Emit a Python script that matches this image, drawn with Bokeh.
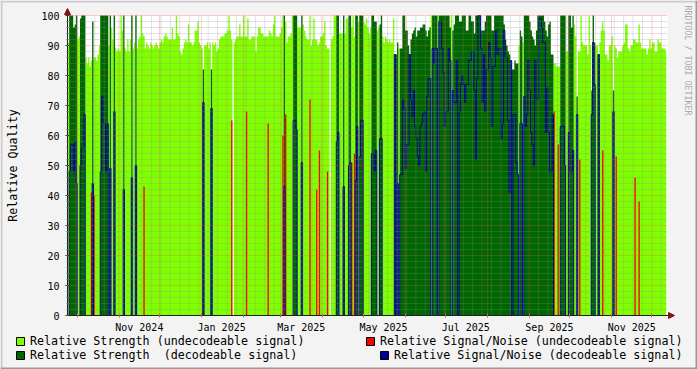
import numpy as np
import pandas as pd
from bokeh.plotting import figure
from bokeh.models import (ColumnDataSource, Range1d, FixedTicker, DatetimeTickFormatter,
                          DatetimeAxis, LinearAxis, Legend, LegendItem, Label,
                          BoxAnnotation, Arrow, NormalHead)
from bokeh.embed import file_html
from bokeh.resources import INLINE

nan = float("nan")

# ---------------- data (one value per day, starting at first_day) ----------------
first_day = "2024-09-23"

strength_undecodeable = [
    91, 91, 0, 0, 0, 0, 0, 0, 92, 93,
    0, 0, 0, 0, 86, 84, 86, 83, 85, 0,
    86, 86, 85, 87, 90, 0, 0, 0, 0, 0,
    0, 90, 0, 96, 92, 0, 89, 88, 89, 88,
    100, 95, 0, 89, 88, 92, 88, 92, 0, 89,
    91, 0, 89, 92, 93, 100, 94, 93, 89, 91,
    90, 89, 91, 90, 89, 90, 91, 90, 89, 91,
    92, 91, 93, 94, 93, 92, 92, 92, 96, 92,
    92, 100, 94, 93, 88, 87, 89, 91, 92, 91,
    97, 91, 91, 90, 91, 95, 95, 98, 91, 90,
    89, 0, 90, 90, 91, 89, 91, 0, 91, 90,
    91, 88, 89, 92, 93, 93, 93, 94, 94, 95,
    100, 95, 92, nan, 91, 92, 93, 93, 97, 93,
    93, 100, 93, 93, 99, 92, 92, 93, 93, 93,
    88, 93, 96, 96, 94, 94, 93, 93, 93, 93,
    95, 94, 93, 97, 100, 93, 93, 93, 94, 96,
    100, 0, 98, 91, 93, 93, 94, 100, 0, 0,
    0, 96, 96, 96, 0, 97, 95, 93, 92, 92,
    100, 90, 92, 99, 92, 92, 90, 91, 93, 93,
    94, 98, 90, 89, 89, nan, 92, 93, 100, 100,
    0, 0, 94, 94, 94, 0, 94, 99, 99, 0,
    0, 96, 100, 93, 0, 0, 98, 0, 0, 0,
    98, 97, 99, 96, 94, 96, 0, 0, 0, 0,
    95, 96, 0, 0, 93, 91, 93, 92, 91, 92,
    91, 91, 99, 0, 0, 0, 89, 0, 0, 0,
    0, 0, 0, 0, 0, 0, 0, 0, 0, 0,
    0, 0, 0, 0, 0, 0, 0, 0, 0, 0,
    100, 0, 0, 0, 0, 100, 0, 0, 0, 0,
    0, 0, 0, 0, 0, 100, 0, 0, 0, 0,
    0, 0, 0, 0, 0, 0, 0, 0, 0, 0,
    0, 0, 0, 0, 0, 0, 0, 0, 0, 0,
    0, 0, 0, 0, 0, 0, 0, 0, 0, 0,
    0, 0, 0, 0, 0, 0, 0, 0, 0, 0,
    0, 0, 0, 0, 0, 90, 0, 0, 91, 0,
    0, 0, 0, 0, 0, 0, 0, 0, 0, 0,
    0, 0, 0, 0, 0, 0, 0, 0, 0, 0,
    0, 84, 84, 83, 83, 83, 0, 0, 0, 0,
    88, 88, 0, 0, 0, 0, 97, 93, 0, 88,
    88, 100, 91, 90, 90, 90, 87, 100, 90, 0,
    0, 0, 90, 90, 0, 91, 95, 98, 95, 87,
    87, 85, 90, 90, 93, 0, 90, 89, 86, 88,
    88, 88, 90, 91, 97, 97, 89, 88, 90, 90,
    92, 92, 91, 91, 97, 91, 89, 89, 89, 89,
    87, 89, 92, 89, 91, 91, 88, 88, 92, 91,
    91, 89, 89, 89, 88,
]

strength_decodeable = [
    0, 0, 100, 100, 100, 96, 97, 100, 0, 0,
    99, 100, 100, 100, 0, 0, 0, 0, 0, 98,
    0, 0, 0, 0, 0, 100, 100, 100, 100, 100,
    100, 0, 100, 0, 0, 100, 0, 0, 0, 0,
    0, 0, 100, 0, 0, 0, 0, 0, 100, 0,
    0, 100, 0, 0, 0, 0, 0, 0, 0, 0,
    0, 0, 0, 0, 0, 0, 0, 0, 0, 0,
    0, 0, 0, 0, 0, 0, 0, 0, 0, 0,
    0, 0, 0, 0, 0, 0, 0, 0, 0, 0,
    0, 0, 0, 0, 0, 0, 0, 0, 0, 0,
    0, 82, 0, 0, 0, 0, 0, 82, 0, 0,
    0, 0, 0, 0, 0, 0, 0, 0, 0, 0,
    0, 0, 0, 0, 0, 0, 0, 0, 0, 0,
    0, 0, 0, 0, 0, 0, 0, 0, 0, 0,
    0, 0, 0, 0, 0, 0, 0, 0, 0, 0,
    0, 0, 0, 0, 0, 0, 0, 0, 0, 0,
    0, 100, 0, 0, 0, 0, 0, 0, 100, 100,
    100, 0, 0, 0, 100, 0, 0, 0, 0, 0,
    0, 0, 0, 0, 0, 0, 0, 0, 0, 0,
    0, 0, 0, 0, 0, 0, 0, 0, 0, 0,
    100, 100, 0, 0, 0, 100, 0, 0, 0, 100,
    100, 0, 0, 0, 100, 100, 0, 100, 100, 100,
    0, 0, 0, 0, 0, 0, 100, 100, 98, 98,
    0, 0, 97, 100, 0, 0, 0, 0, 0, 0,
    0, 0, 0, 87, 87, 91, 0, 89, 89, 100,
    100, 95, 95, 90, 87, 92, 94, 95, 96, 93,
    95, 95, 96, 96, 97, 97, 95, 93, 95, 96,
    0, 100, 100, 100, 100, 0, 100, 100, 100, 100,
    100, 100, 100, 100, 96, 0, 95, 97, 100, 100,
    100, 98, 98, 100, 100, 100, 95, 95, 100, 100,
    98, 98, 94, 100, 100, 100, 100, 95, 95, 95,
    98, 100, 100, 100, 100, 95, 95, 100, 100, 100,
    100, 100, 100, 100, 97, 92, 90, 88, 87, 85,
    82, 82, 85, 84, 84, 0, 95, 93, 0, 100,
    100, 100, 100, 98, 95, 93, 92, 90, 95, 100,
    100, 100, 100, 100, 98, 95, 93, 97, 98, 87,
    87, 0, 0, 0, 0, 0, 100, 100, 100, 100,
    0, 0, 100, 100, 96, 100, 0, 0, 73, 0,
    0, 0, 0, 0, 0, 0, 0, 0, 0, 75,
    100, 91, 0, 0, 87, 0, 0, 0, 0, 0,
    0, 0, 0, 0, 0, 75, 0, 0, 0, 0,
    0, 0, 0, 0, 0, 0, 0, 0, 0, 0,
    0, 0, 0, 0, 0, 0, 0, 0, 0, 0,
    0, 0, 0, 0, 0, 0, 0, 0, 0, 0,
    0, 0, 0, 0, 0,
]

snr_undecodeable = [
    0, 0, 0, 0, 0, 0, 0, 0, 0, 0,
    0, 0, 0, 0, 0, 0, 0, 0, 41, 0,
    40, 0, 0, 0, 0, 0, 0, 0, 0, 0,
    0, 0, 0, 0, 0, 0, 0, 0, 0, 0,
    0, 0, 0, 0, 0, 0, 0, 0, 0, 0,
    0, 0, 0, 0, 0, 0, 0, 43, 0, 0,
    0, 0, 0, 0, 0, 0, 0, 0, 0, 0,
    0, 0, 0, 0, 0, 0, 0, 0, 0, 0,
    0, 0, 0, 0, 0, 0, 0, 0, 0, 0,
    0, 0, 0, 0, 0, 0, 0, 0, 0, 0,
    0, 0, 0, 0, 0, 0, 0, 0, 0, 0,
    0, 0, 0, 0, 0, 0, 0, 0, 0, 0,
    0, 0, 65, 0, 0, 0, 0, 0, 0, 0,
    0, 0, 0, 68, 0, 0, 0, 0, 0, 0,
    0, 0, 0, 0, 0, 0, 0, 0, 0, 64,
    0, 0, 0, 0, 0, 0, 0, 0, 0, 0,
    60, 0, 67, 0, 0, 0, 0, 0, 0, 0,
    0, 0, 0, 0, 0, 0, 0, 0, 0, 0,
    72, 0, 0, 0, 0, 42, 0, 55, 0, 0,
    0, 0, 0, 48, 0, 0, 0, 0, 0, 0,
    0, 0, 0, 0, 0, 0, 0, 0, 0, 0,
    0, 51, 0, 54, 0, 0, 0, 0, 0, 0,
    0, 0, 0, 0, 0, 0, 0, 0, 0, 0,
    0, 0, 0, 0, 0, 0, 0, 0, 0, 0,
    0, 0, 0, 0, 0, 0, 0, 0, 0, 0,
    0, 0, 0, 0, 0, 0, 0, 0, 0, 0,
    0, 0, 0, 0, 0, 0, 0, 0, 0, 0,
    0, 0, 0, 0, 0, 0, 0, 0, 0, 0,
    0, 0, 0, 0, 0, 0, 0, 0, 0, 0,
    0, 0, 0, 0, 0, 0, 0, 0, 0, 0,
    0, 0, 0, 0, 0, 0, 0, 0, 0, 0,
    0, 0, 0, 0, 0, 0, 0, 0, 0, 0,
    0, 0, 0, 0, 0, 0, 0, 0, 0, 0,
    0, 0, 0, 0, 0, 0, 0, 0, 0, 0,
    0, 0, 0, 0, 0, 0, 0, 0, 0, 0,
    0, 0, 0, 0, 0, 0, 0, 0, 0, 0,
    0, 68, 0, 0, 57, 0, 0, 0, 0, 0,
    0, 0, 0, 0, 0, 0, 0, 0, 0, 0,
    52, 0, 0, 0, 0, 0, 0, 0, 0, 0,
    0, 0, 0, 0, 0, 0, 0, 55, 0, 0,
    0, 0, 0, 0, 0, 0, 0, 53, 0, 0,
    0, 0, 0, 0, 0, 0, 0, 0, 0, 0,
    0, 46, 0, 0, 38, 0, 0, 0, 0, 0,
    0, 0, 0, 0, 0, 0, 0, 0, 0, 0,
    0, 0, 0, 0, 0,
]

snr_decodeable = [
    0, 0, 48, 57, 57, 48, 58, 44, 0, 0,
    50, 56, 56, 67, 0, 0, 0, 0, 0, 44,
    0, 0, 0, 0, 0, 48, 73, 64, 64, 48,
    64, 0, 49, 0, 0, 68, 0, 0, 0, 0,
    0, 0, 42, 0, 0, 0, 0, 0, 46, 0,
    0, 50, 0, 0, 0, 0, 0, 0, 0, 0,
    0, 0, 0, 0, 0, 0, 0, 0, 0, 0,
    0, 0, 0, 0, 0, 0, 0, 0, 0, 0,
    0, 0, 0, 0, 0, 0, 0, 0, 0, 0,
    0, 0, 0, 0, 0, 0, 0, 0, 0, 0,
    0, 71, 0, 0, 0, 0, 0, 69, 0, 0,
    0, 0, 0, 0, 0, 0, 0, 0, 0, 0,
    0, 0, 0, 0, 0, 0, 0, 0, 0, 0,
    0, 0, 0, 0, 0, 0, 0, 0, 0, 0,
    0, 0, 0, 0, 0, 0, 0, 0, 0, 0,
    0, 0, 0, 0, 0, 0, 0, 0, 0, 0,
    0, 43, 0, 0, 0, 0, 0, 0, 65, 65,
    62, 0, 0, 0, 51, 0, 0, 0, 0, 0,
    0, 0, 0, 0, 0, 0, 0, 0, 0, 0,
    0, 0, 0, 0, 0, 0, 0, 0, 0, 0,
    58, 61, 0, 0, 0, 43, 0, 0, 0, 50,
    51, 0, 0, 0, 45, 63, 0, 53, 65, 65,
    0, 0, 0, 0, 0, 0, 54, 54, 48, 55,
    0, 0, 59, 59, 0, 0, 0, 0, 0, 0,
    0, 0, 0, 87, 0, 44, 0, 47, 47, 72,
    69, 49, 57, 57, 87, 72, 66, 75, 63, 59,
    53, 50, 63, 64, 67, 68, 48, 73, 79, 79,
    0, 89, 84, 89, 89, 0, 98, 98, 89, 81,
    63, 68, 68, 89, 85, 0, 75, 71, 71, 85,
    0, 68, 77, 80, 77, 71, 77, 77, 85, 85,
    88, 88, 75, 52, 79, 100, 100, 89, 71, 87,
    68, 82, 82, 91, 86, 63, 83, 83, 95, 87,
    89, 89, 59, 64, 95, 86, 86, 65, 41, 85,
    0, 67, 67, 51, 47, 0, 64, 64, 0, 73,
    63, 67, 85, 75, 61, 57, 50, 85, 72, 72,
    99, 99, 96, 91, 91, 61, 76, 61, 48, 48,
    67, 0, 0, 0, 0, 0, 63, 63, 63, 50,
    0, 0, 61, 48, 48, 55, 0, 0, 67, 0,
    0, 0, 0, 0, 0, 0, 0, 0, 0, 67,
    91, 77, 0, 0, 87, 0, 0, 0, 0, 0,
    0, 0, 0, 0, 0, 68, 0, 0, 0, 0,
    0, 0, 0, 0, 0, 0, 0, 0, 0, 0,
    0, 0, 0, 0, 0, 0, 0, 0, 0, 0,
    0, 0, 0, 0, 0, 0, 0, 0, 0, 0,
    0, 0, 0, 0, 0,
]

series_labels = [
    "Relative Strength (undecodeable signal)",
    "Relative Signal/Noise (undecodeable signal)",
    "Relative Strength  (decodeable signal)",
    "Relative Signal/Noise (decodeable signal)",
]
label_months = ["2024-11", "2025-01", "2025-03", "2025-05", "2025-07", "2025-09", "2025-11"]
y_ticks = [0, 10, 20, 30, 40, 50, 60, 70, 80, 90, 100]
y_minor = list(range(0, 101, 2))

# ---------------- style ----------------
C_LG, C_RED, C_DG, C_BLUE = "#80FF00", "#FF0000", "#006600", "#000099"
BG = "#F3F3F3"
FONT = "DejaVu Sans Mono"
MS_DAY = 86400000.0
W, H = 697, 369
FL, FT, FW, FH = 67, 15, 600, 300      # plot area in canvas pixels

n = len(strength_undecodeable)
assert all(len(a) == n for a in (strength_decodeable, snr_undecodeable, snr_decodeable)), \
    [len(a) for a in (strength_undecodeable, strength_decodeable, snr_undecodeable, snr_decodeable)]

t0 = pd.Timestamp(first_day).value / 1e6
x_start = t0 + 0.75 * MS_DAY
x_end = x_start + 444.77 * MS_DAY
mpp = (x_end - x_start) / FW          # ms per pixel
upp = 100.0 / FH                      # value units per pixel

x_lo = x_start - FL * mpp
x_hi = x_lo + W * mpp
y_hi = 100 + FT * upp
y_lo = y_hi - H * upp

day_ms = t0 + np.arange(n) * MS_DAY
x_edges = np.append(day_ms, day_ms[-1] + 0.6 * MS_DAY)
x_edges[0] = x_start


def stepped(v):
    v = np.nan_to_num(np.asarray(v, dtype=float), nan=0.0)
    return np.append(v, v[-1])


src = ColumnDataSource(dict(
    x=x_edges,
    su=stepped(strength_undecodeable),
    sd=stepped(strength_decodeable),
    nu=stepped(snr_undecodeable),
    nd=stepped(snr_decodeable),
))

p = figure(width=W, height=H, output_backend="svg", toolbar_location=None,
           x_axis_type="datetime", x_axis_location=None, y_axis_location=None,
           x_range=Range1d(x_lo, x_hi), y_range=Range1d(y_lo, y_hi),
           min_border_left=0, min_border_right=0, min_border_top=0, min_border_bottom=0,
           background_fill_color=BG, border_fill_color=BG, outline_line_color=None)
for g in p.grid:
    g.visible = False

# white canvas of the graph
p.add_layout(BoxAnnotation(left=x_start, right=x_end, bottom=0, top=100, fill_color="#FFFFFF",
                           fill_alpha=1.0, line_color=None, level="underlay"))

# data
p.varea_step(x="x", y1=0, y2="su", step_mode="after", source=src, fill_color=C_LG)
p.varea_step(x="x", y1=0, y2="nu", step_mode="after", source=src, fill_color=C_RED)
p.varea_step(x="x", y1=0, y2="sd", step_mode="after", source=src, fill_color=C_DG)
p.step(x="x", y="nd", mode="after", source=src, line_color=C_BLUE, line_width=1)

# grid (drawn over the data, limited to the graph area)
month_starts = [t.value / 1e6 for t in pd.date_range("2024-10-01", "2025-12-01", freq="MS")]
mondays = [t.value / 1e6 for t in pd.date_range(first_day, "2025-12-12", freq="7D")]
label_pos = [pd.Timestamp(m + "-01").value / 1e6 + 15 * MS_DAY for m in label_months]

v_major = [t for t in month_starts if x_start < t < x_end]
v_minor = [t for t in mondays if x_start < t < x_end and t not in month_starts]
h_major = [v for v in y_ticks if v > 0]
h_minor = [v for v in y_minor if v % 10 != 0]

MINOR = dict(line_color="#8C8C8C", line_alpha=0.5, line_dash="1 1", line_width=1)
MAJOR = dict(line_color="#FF5050", line_alpha=0.55, line_dash="1 1", line_width=1)
p.segment(x0=v_minor, y0=0, x1=v_minor, y1=100, **MINOR)
p.segment(x0=x_start, y0=h_minor, x1=x_end, y1=h_minor, **MINOR)
p.segment(x0=v_major, y0=0, x1=v_major, y1=100, **MAJOR)
p.segment(x0=x_start, y0=h_major, x1=x_end, y1=h_major, **MAJOR)

# axes at fixed positions
fmt = "%b %Y"
xa = DatetimeAxis(fixed_location=0, bounds=(x_start, x_end + 2 * mpp),
                  ticker=FixedTicker(ticks=label_pos, minor_ticks=v_major),
                  formatter=DatetimeTickFormatter(microseconds=fmt, milliseconds=fmt, seconds=fmt,
                                                  minsec=fmt, minutes=fmt, hourmin=fmt, hours=fmt,
                                                  days=fmt, months=fmt, years=fmt))
xa.major_tick_line_color = None
xa.major_tick_out = 0
xa.major_tick_in = 0
xa.minor_tick_line_color = "#D06060"
xa.minor_tick_out = 2
xa.minor_tick_in = 2
xa.major_label_standoff = 4
xa.axis_line_color = "#202020"
p.add_layout(xa, "below")

ya = LinearAxis(fixed_location=x_start, bounds=(0, 100 + 2 * upp),
                ticker=FixedTicker(ticks=y_ticks, minor_ticks=y_minor))
ya.major_tick_out = 2
ya.major_tick_in = 2
ya.minor_tick_out = 1
ya.minor_tick_in = 1
ya.major_tick_line_color = "#202020"
ya.minor_tick_line_color = "#606060"
ya.major_label_standoff = 6
ya.axis_line_color = "#202020"
p.add_layout(ya, "left")

for ax in (xa, ya):
    ax.major_label_text_font = FONT
    ax.major_label_text_font_size = "10px"
    ax.major_label_text_color = "#000000"

# axis arrows
arrow_col = "#8B1010"
p.add_layout(Arrow(end=NormalHead(size=6, fill_color=arrow_col, line_color=arrow_col, line_width=1),
                   x_start=x_end, y_start=0, x_end=x_end + 7 * mpp, y_end=0,
                   line_color="#202020", line_width=1))
p.add_layout(Arrow(end=NormalHead(size=6, fill_color=arrow_col, line_color=arrow_col, line_width=1),
                   x_start=x_start, y_start=100, x_end=x_start, y_end=100 + 7 * upp,
                   line_color="#202020", line_width=1))

# texts
p.add_layout(Label(x=x_lo + 12 * mpp, y=y_hi - 165 * upp, text="Relative Quality",
                   angle=np.pi / 2, text_align="center", text_baseline="middle",
                   text_font=FONT, text_font_size="11.7px", text_color="#000000"))
p.add_layout(Label(x=x_lo + 687 * mpp, y=y_hi - 5 * upp, text="RRDTOOL / TOBI OETIKER",
                   angle=-np.pi / 2, text_align="left", text_baseline="middle",
                   text_font=FONT, text_font_size="8.3px", text_color="#AAAAAA"))

# legend (proxy boxes lie outside the visible range); two rows, each right-justified like rrdtool
proxies = []
for c in (C_LG, C_RED, C_DG, C_BLUE):
    proxies.append(p.quad(left=[x_hi + 10 * MS_DAY], right=[x_hi + 11 * MS_DAY], top=[1], bottom=[0],
                          fill_color=c, line_color="#000000", line_width=1))

LEG = dict(orientation="horizontal", glyph_width=10, glyph_height=10, label_standoff=5,
           label_height=14, spacing=0, padding=0, margin=0,
           background_fill_alpha=0, border_line_color=None,
           label_text_font=FONT, label_text_font_size="11.7px", label_text_color="#000000")
row1 = Legend(items=[LegendItem(label=series_labels[0], renderers=[proxies[0]]),
                     LegendItem(label=series_labels[1], renderers=[proxies[1]])],
              location=(15, 21), label_width=335, **LEG)
row2 = Legend(items=[LegendItem(label=series_labels[2], renderers=[proxies[2]]),
                     LegendItem(label=series_labels[3], renderers=[proxies[3]])],
              location=(15, 7), label_width=349, **LEG)
p.add_layout(row1)
p.add_layout(row2)

# 3-D frame of the image
for (l, r, b, t, c) in [
    (x_lo, x_hi, y_hi - 2 * upp, y_hi, "#CBCBCB"),
    (x_lo, x_lo + 2 * mpp, y_lo, y_hi, "#CBCBCB"),
    (x_lo, x_hi, y_lo, y_lo + 2 * upp, "#999999"),
    (x_hi - 2 * mpp, x_hi, y_lo, y_hi, "#999999"),
]:
    p.add_layout(BoxAnnotation(left=l, right=r, bottom=b, top=t, fill_color=c, fill_alpha=1.0,
                               line_color=None))

open("out.html", "w").write(file_html(p, INLINE))
